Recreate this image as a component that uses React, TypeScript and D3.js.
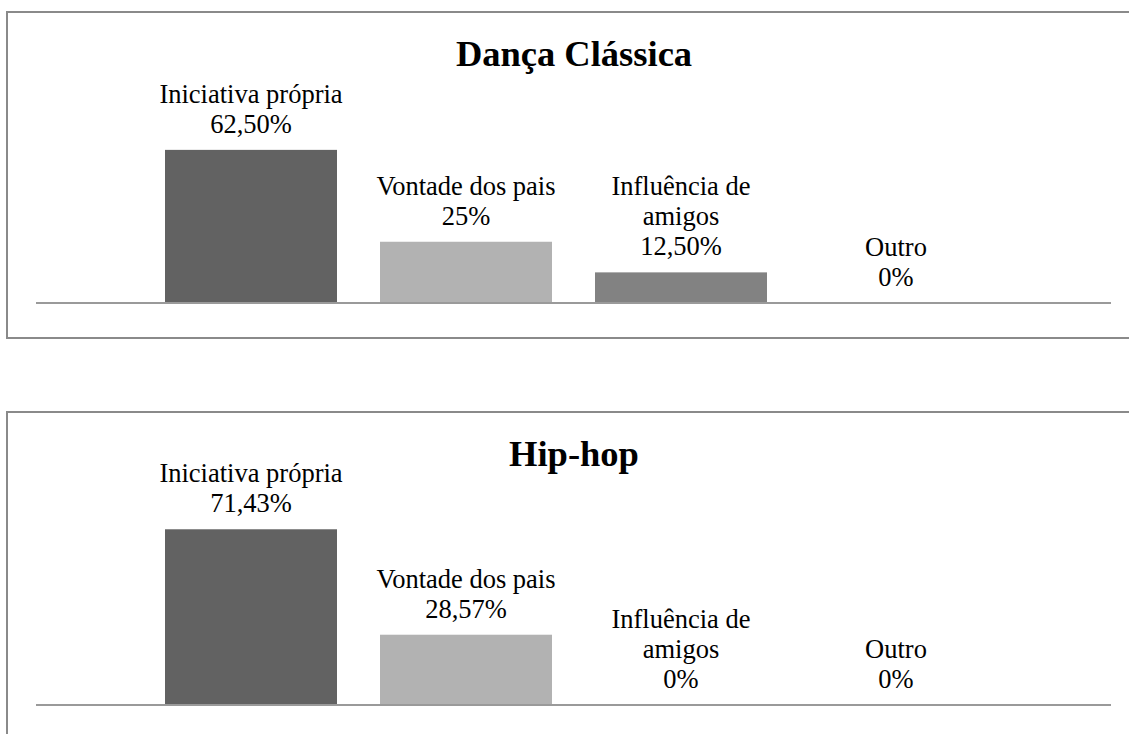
import React from "react";
import * as d3 from "d3";

const categories = ["Iniciativa própria", "Vontade dos pais", "Influência de amigos", "Outro"];
const barColors = ["#626262", "#b2b2b2", "#828282", "#9a9a9a"];
const titles = ["Dança Clássica", "Hip-hop"];
const classicaValues = [62.5, 25, 12.5, 0];
const hiphopValues = [71.43, 28.57, 0, 0];
const panelValues = [classicaValues, hiphopValues];

const W = 1129;
const H = 734;
const panelTops = [12, 412];
const axisOffsets = [291, 293];
const pxPer100 = [245, 246];
const LABEL_FONT = 26.5;
const TITLE_FONT = 36.5;
const FONT = "'Liberation Serif', 'Times New Roman', serif";

function fmt(v: number): string {
  if (Number.isInteger(v)) return `${v}%`;
  return `${v.toFixed(2).replace(".", ",")}%`;
}

let ctx: CanvasRenderingContext2D | null = null;
function measure(t: string): number {
  if (!ctx) {
    const c = document.createElement("canvas");
    ctx = c.getContext("2d");
  }
  if (!ctx) return t.length * LABEL_FONT * 0.45;
  ctx.font = `${LABEL_FONT}px 'Liberation Serif'`;
  return ctx.measureText(t).width;
}

function wrap(text: string, maxW: number): string[] {
  const words = text.split(" ");
  const lines: string[] = [];
  let cur = "";
  for (const w of words) {
    const test = cur ? cur + " " + w : w;
    if (cur && measure(test) > maxW) {
      lines.push(cur);
      cur = w;
    } else cur = test;
  }
  if (cur) lines.push(cur);
  return lines;
}

const x = d3.scaleBand<string>().domain(categories).range([36, 1111]).paddingInner(0.2).paddingOuter(0.6);

function Panel({ idx }: { idx: number }) {
  const top = panelTops[idx];
  const axisY = top + axisOffsets[idx];
  const y = d3.scaleLinear().domain([0, 100]).range([axisY, axisY - pxPer100[idx]]);
  const vals = panelValues[idx];
  return (
    <g>
      <rect x={7} y={top} width={W + 20} height={326} fill="#fff" stroke="#8a8a8a" strokeWidth={2} />
      <text x={574} y={top + 54} textAnchor="middle" fontFamily={FONT} fontWeight="bold" fontSize={TITLE_FONT} fill="#000">
        {titles[idx]}
      </text>
      {categories.map((c, i) => {
        const bx = x(c) as number;
        const bw = x.bandwidth();
        const yt = y(vals[i]);
        const lines = [...wrap(c, 200), fmt(vals[i])];
        const lastBase = yt - 17;
        return (
          <g key={c}>
            {vals[i] > 0 && <rect x={bx} y={yt} width={bw} height={axisY - yt} fill={barColors[i]} />}
            <text textAnchor="middle" fontFamily={FONT} fontSize={LABEL_FONT} fill="#000">
              {lines.map((l, j) => (
                <tspan key={j} x={bx + bw / 2} y={lastBase - (lines.length - 1 - j) * 30}>
                  {l}
                </tspan>
              ))}
            </text>
          </g>
        );
      })}
      <line x1={36} x2={1111} y1={axisY} y2={axisY} stroke="#9a9a9a" strokeWidth={2} />
    </g>
  );
}

export default function App() {
  return (
    <svg width={W} height={H} style={{ position: "absolute", left: 0, top: 0, background: "#fff" }}>
      <rect x={0} y={0} width={W} height={H} fill="#fff" />
      <Panel idx={0} />
      <Panel idx={1} />
    </svg>
  );
}
